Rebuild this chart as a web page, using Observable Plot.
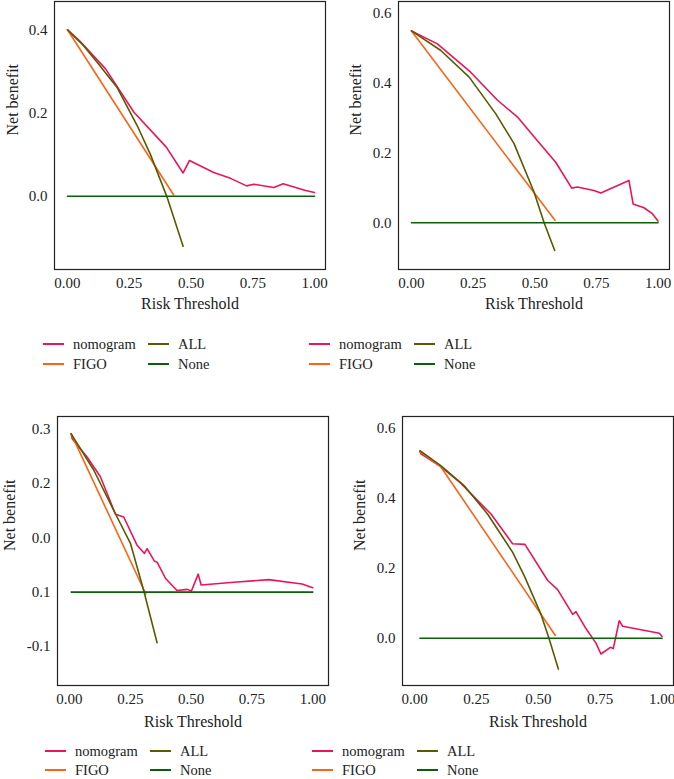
<!DOCTYPE html>
<html>
<head>
<meta charset="utf-8">
<script src="https://cdn.jsdelivr.net/npm/d3@7"></script>
<script src="https://cdn.jsdelivr.net/npm/@observablehq/plot@0.6"></script>
<style>
  html, body { margin: 0; padding: 0; background: #fff; }
  #root { position: relative; width: 674px; height: 779px; font-family: "Liberation Serif", "Times New Roman", "DejaVu Serif", serif; color: #222; overflow: hidden; }
  .panel { position: absolute; }
  .leg { position: absolute; font-size: 14.5px; line-height: 1; white-space: nowrap; }
  .leg .sw { position: absolute; height: 2px; width: 21px; }
  .leg .tx { position: absolute; transform: translateY(-50%); }
</style>
</head>
<body>
<div id="root"></div>
<script>
// ---------- data ----------
const seriesNames = ["nomogram", "FIGO", "ALL", "None"];
const seriesColors = ["#ec1459", "#fa6419", "#5a5a00", "#0b5e0b"];
const xTicks = [0, 0.25, 0.5, 0.75, 1];

// Panel 1 (top-left)
const p1Nomogram = [[0,0.400],[0.05,0.373],[0.154,0.306],[0.269,0.202],[0.40,0.118],[0.468,0.056],[0.494,0.086],[0.592,0.057],[0.66,0.043],[0.725,0.025],[0.754,0.029],[0.835,0.021],[0.873,0.030],[0.964,0.014],[1.0,0.009]];
const p1Figo = [[0,0.400],[0.43,0.003]];
const p1All = [[0,0.400],[0.06,0.365],[0.12,0.322],[0.20,0.262],[0.282,0.170],[0.336,0.10],[0.403,-0.002],[0.468,-0.12]];
const p1None = [[0,0],[1,0]];
const p1YTicks = [0, 0.2, 0.4];
const p1YLabels = ["0.0", "0.2", "0.4"];

// Panel 2 (top-right)
const p2Nomogram = [[0,0.548],[0.105,0.511],[0.24,0.43],[0.349,0.35],[0.43,0.302],[0.51,0.235],[0.585,0.173],[0.65,0.099],[0.673,0.102],[0.74,0.092],[0.768,0.085],[0.882,0.121],[0.899,0.054],[0.943,0.043],[0.977,0.026],[1.0,0.005]];
const p2Figo = [[0,0.548],[0.582,0.007]];
const p2All = [[0,0.548],[0.119,0.492],[0.234,0.416],[0.342,0.311],[0.416,0.226],[0.497,0.088],[0.538,0],[0.581,-0.079]];
const p2None = [[0,0],[1,0]];
const p2YTicks = [0, 0.2, 0.4, 0.6];
const p2YLabels = ["0.0", "0.2", "0.4", "0.6"];

// Panel 3 (bottom-left)
const p3Nomogram = [[0.007,0.291],[0.011,0.282],[0.073,0.248],[0.127,0.212],[0.189,0.143],[0.223,0.138],[0.278,0.086],[0.308,0.071],[0.319,0.080],[0.349,0.057],[0.36,0.055],[0.395,0.025],[0.442,0.003],[0.484,0.005],[0.501,0.002],[0.529,0.033],[0.541,0.013],[0.675,0.018],[0.819,0.023],[0.956,0.015],[1.0,0.008]];
const p3Figo = [[0.007,0.291],[0.314,-0.004]];
const p3All = [[0.007,0.291],[0.1,0.224],[0.182,0.150],[0.251,0.089],[0.305,0.003],[0.36,-0.093]];
const p3None = [[0.007,0],[1,0]];
const p3YTicks = [-0.1, 0, 0.1, 0.2, 0.3];
const p3YLabels = ["-0.1", "0.1", "0.0", "0.2", "0.3"];

// Panel 4 (bottom-right)
const p4Nomogram = [[0.022,0.533],[0.026,0.527],[0.106,0.490],[0.187,0.443],[0.255,0.393],[0.309,0.355],[0.396,0.27],[0.446,0.268],[0.538,0.165],[0.578,0.139],[0.639,0.068],[0.652,0.076],[0.693,0.027],[0.733,-0.014],[0.753,-0.045],[0.791,-0.026],[0.803,-0.029],[0.827,0.050],[0.841,0.034],[0.989,0.014],[1.0,0.005]];
const p4Figo = [[0.022,0.533],[0.106,0.490],[0.569,0.008]];
const p4All = [[0.022,0.536],[0.106,0.493],[0.2,0.436],[0.295,0.355],[0.396,0.246],[0.443,0.179],[0.511,0.068],[0.544,-0.002],[0.581,-0.088]];
const p4None = [[0.022,0],[1,0]];
const p4YTicks = [0, 0.2, 0.4, 0.6];
const p4YLabels = ["0.0", "0.2", "0.4", "0.6"];

const xLabel = "Risk Threshold";
const yLabel = "Net benefit";

// ---------- layout ----------
const panels = [
  {left: 0,   top: 0,   width: 337, height: 320, mL: 54, mR: 12, mT: 1,  mB: 51, xDomain: [-0.0526, 1.0445], yDomain: [-0.176, 0.468], yTicks: p1YTicks, yLabels: p1YLabels, series: [p1Nomogram, p1Figo, p1All, p1None], xlDy: 39, ylDx: -42, legLeft: 43, legTop: 344, rowGap: 20},
  {left: 337, top: 0,   width: 337, height: 320, mL: 61, mR: 5,  mT: 1,  mB: 51, xDomain: [-0.0527, 1.0466], yDomain: [-0.1334, 0.632], yTicks: p2YTicks, yLabels: p2YLabels, series: [p2Nomogram, p2Figo, p2All, p2None], xlDy: 39, ylDx: -43, legLeft: 309, legTop: 344, rowGap: 20},
  {left: 0,   top: 390, width: 337, height: 340, mL: 57, mR: 9,  mT: 26, mB: 45, xDomain: [-0.0493, 1.0645], yDomain: [-0.1717, 0.3228], yTicks: p3YTicks, yLabels: p3YLabels, series: [p3Nomogram, p3Figo, p3All, p3None], xlDy: 41, ylDx: -48, legLeft: 45, legTop: 751, rowGap: 19},
  {left: 337, top: 390, width: 337, height: 340, mL: 65, mR: 1,  mT: 26, mB: 45, xDomain: [-0.0485, 1.0461], yDomain: [-0.135, 0.6334], yTicks: p4YTicks, yLabels: p4YLabels, series: [p4Nomogram, p4Figo, p4All, p4None], xlDy: 41, ylDx: -43, legLeft: 312, legTop: 751, rowGap: 19}
];

const root = document.getElementById("root");

panels.forEach(p => {
  const marks = [
    Plot.frame({stroke: "#222", strokeWidth: 1.2}),
    Plot.axisX({ticks: xTicks, tickFormat: d3.format(".2f"), tickSize: 0, tickPadding: 8, label: null}),
    Plot.axisY({ticks: p.yTicks, tickFormat: d => p.yLabels[p.yTicks.indexOf(d)], tickSize: 0, tickPadding: 7, label: null}),
    Plot.text([xLabel], {frameAnchor: "bottom", dy: p.xlDy, fontSize: 16, fill: "#222"}),
    Plot.text([yLabel], {frameAnchor: "left", dx: p.ylDx, rotate: -90, fontSize: 16, fill: "#222"})
  ];
  p.series.forEach((data, i) => {
    marks.push(Plot.line(data, {x: d => d[0], y: d => d[1], stroke: seriesColors[i], strokeWidth: 1.6}));
  });
  const chart = Plot.plot({
    width: p.width, height: p.height,
    marginLeft: p.mL, marginRight: p.mR, marginTop: p.mT, marginBottom: p.mB,
    x: {domain: p.xDomain},
    y: {domain: p.yDomain},
    style: {fontFamily: "'Liberation Serif', 'Times New Roman', 'DejaVu Serif', serif", fontSize: "15px", color: "#222", background: "transparent", overflow: "visible"},
    marks
  });
  const wrap = document.createElement("div");
  wrap.className = "panel";
  wrap.style.left = p.left + "px";
  wrap.style.top = p.top + "px";
  wrap.appendChild(chart);
  root.appendChild(wrap);

  // legend (2 columns x 2 rows): nomogram / FIGO | ALL / None
  const leg = document.createElement("div");
  leg.className = "leg";
  leg.style.left = p.legLeft + "px";
  leg.style.top = p.legTop + "px";
  const order = [[0, 0, 0], [1, 0, 1], [2, 1, 0], [3, 1, 1]]; // [seriesIdx, col, row]
  order.forEach(([si, col, row]) => {
    const sw = document.createElement("div");
    sw.className = "sw";
    sw.style.left = (col * 105) + "px";
    sw.style.top = (row * p.rowGap - 1) + "px";
    sw.style.background = seriesColors[si];
    const tx = document.createElement("div");
    tx.className = "tx";
    tx.style.left = (col * 105 + 30) + "px";
    tx.style.top = (row * p.rowGap) + "px";
    tx.textContent = seriesNames[si];
    leg.appendChild(sw);
    leg.appendChild(tx);
  });
  root.appendChild(leg);
});
</script>
</body>
</html>
